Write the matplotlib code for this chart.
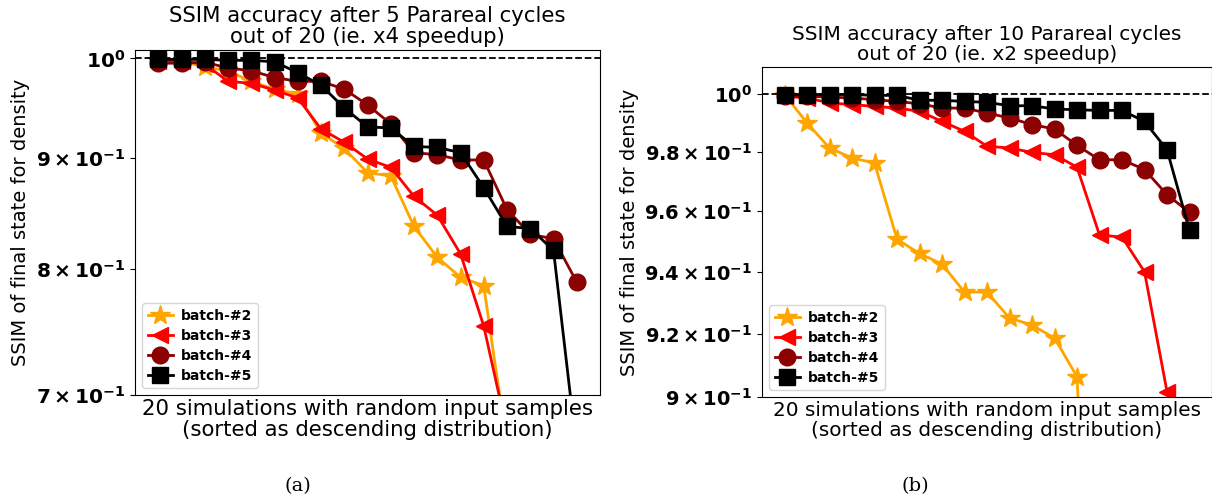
import matplotlib
matplotlib.use('Agg')
import matplotlib.pyplot as plt
import numpy as np

# SSIM values, sorted descending (x = 1..n)
a_batch2 = [0.997, 0.997, 0.991, 0.987, 0.976, 0.968, 0.963, 0.924, 0.909, 0.886,
            0.883, 0.837, 0.810, 0.793, 0.786, 0.663]
a_batch3 = [0.997, 0.997, 0.994, 0.976, 0.974, 0.967, 0.959, 0.928, 0.915, 0.899,
            0.891, 0.864, 0.847, 0.813, 0.753, 0.674]
a_batch4 = [0.995, 0.995, 0.996, 0.990, 0.987, 0.980, 0.976, 0.976, 0.968, 0.952,
            0.933, 0.905, 0.903, 0.898, 0.898, 0.852, 0.830, 0.826, 0.789]
a_batch5 = [0.999, 0.999, 0.999, 0.998, 0.998, 0.9965, 0.985, 0.972, 0.949, 0.930,
            0.929, 0.911, 0.910, 0.905, 0.872, 0.837, 0.835, 0.816, 0.660]

b_batch2 = [0.9997, 0.9899, 0.9813, 0.9779, 0.9762, 0.9507, 0.9460, 0.9425, 0.9334,
            0.9334, 0.9250, 0.9228, 0.9186, 0.9064, 0.770]
b_batch3 = [0.9991, 0.9985, 0.9968, 0.9962, 0.9956, 0.9950, 0.9939, 0.9904, 0.9870,
            0.9819, 0.9813, 0.9798, 0.9790, 0.9748, 0.9521, 0.9514, 0.9400, 0.9017]
b_batch4 = [0.9991, 0.9991, 0.9988, 0.9985, 0.9979, 0.9973, 0.9965, 0.9950, 0.9950,
            0.9933, 0.9916, 0.9893, 0.9878, 0.9822, 0.9773, 0.9773, 0.9740, 0.9655,
            0.9596]
b_batch5 = [0.9997, 0.9997, 0.9997, 0.9997, 0.9994, 0.9994, 0.9977, 0.9977, 0.9973,
            0.9970, 0.9958, 0.9958, 0.9947, 0.9944, 0.9942, 0.9942, 0.9904, 0.9807,
            0.9536]

labels = ['batch-#2', 'batch-#3', 'batch-#4', 'batch-#5']
styles = [('orange', '*', 15), ('red', '<', 12), ('darkred', 'o', 12), ('black', 's', 11)]

a_ticks = [0.7, 0.8, 0.9, 1.0]
a_ticklabels = [r'$\mathbf{7\times10^{-1}}$', r'$\mathbf{8\times10^{-1}}$',
                r'$\mathbf{9\times10^{-1}}$', r'$\mathbf{10^{0}}$']
b_ticks = [0.90, 0.92, 0.94, 0.96, 0.98, 1.0]
b_ticklabels = [r'$\mathbf{9\times10^{-1}}$', r'$\mathbf{9.2\times10^{-1}}$',
                r'$\mathbf{9.4\times10^{-1}}$', r'$\mathbf{9.6\times10^{-1}}$',
                r'$\mathbf{9.8\times10^{-1}}$', r'$\mathbf{10^{0}}$']


def draw_panel(ax, series, ylim, ticks, ticklabels, title, fs, yfs, tfs):
    for vals, lab, (c, m, ms) in zip(series, labels, styles):
        x = np.arange(1, len(vals) + 1)
        ax.plot(x, vals, color=c, marker=m, markersize=ms, linewidth=2, label=lab)
    ax.axhline(1.0, color='k', linestyle='--', linewidth=1.3)
    ax.set_yscale('log')
    ax.set_xlim(0, 20)
    ax.set_ylim(*ylim)
    ax.set_xticks([])
    ax.yaxis.set_minor_locator(matplotlib.ticker.NullLocator())
    ax.set_yticks(ticks)
    ax.set_yticklabels(ticklabels, fontsize=tfs)
    ax.set_title(title, fontsize=fs, linespacing=1.05, pad=5)
    ax.set_xlabel('20 simulations with random input samples\n(sorted as descending distribution)',
                  fontsize=fs, labelpad=3, linespacing=1.05)
    ax.set_ylabel('SSIM of final state for density', fontsize=yfs)
    ax.legend(loc='lower left', prop={'weight': 'bold', 'size': 10}, handlelength=1.8,
              borderpad=0.4, labelspacing=0.42, handletextpad=0.6)


fig = plt.figure(figsize=(12.12, 4.99), dpi=100)
ax1 = fig.add_axes([135 / 1212, 1 - 395 / 499, 465 / 1212, 345 / 499])
ax2 = fig.add_axes([762 / 1212, 1 - 397 / 499, 450 / 1212, 330 / 499])

draw_panel(ax1, [a_batch2, a_batch3, a_batch4, a_batch5], (0.7, 1.009), a_ticks, a_ticklabels,
           'SSIM accuracy after 5 Parareal cycles\nout of 20 (ie. x4 speedup)', 15.3, 14, 14.5)
draw_panel(ax2, [b_batch2, b_batch3, b_batch4, b_batch5], (0.9, 1.0093), b_ticks, b_ticklabels,
           'SSIM accuracy after 10 Parareal cycles\nout of 20 (ie. x2 speedup)', 14.4, 14, 14)

fig.text(298 / 1212, 1 - 486 / 499, '(a)', fontsize=14, family='DejaVu Serif', ha='center', va='center')
fig.text(915 / 1212, 1 - 486 / 499, '(b)', fontsize=14, family='DejaVu Serif', ha='center', va='center')

fig.savefig('out.png', dpi=100)
